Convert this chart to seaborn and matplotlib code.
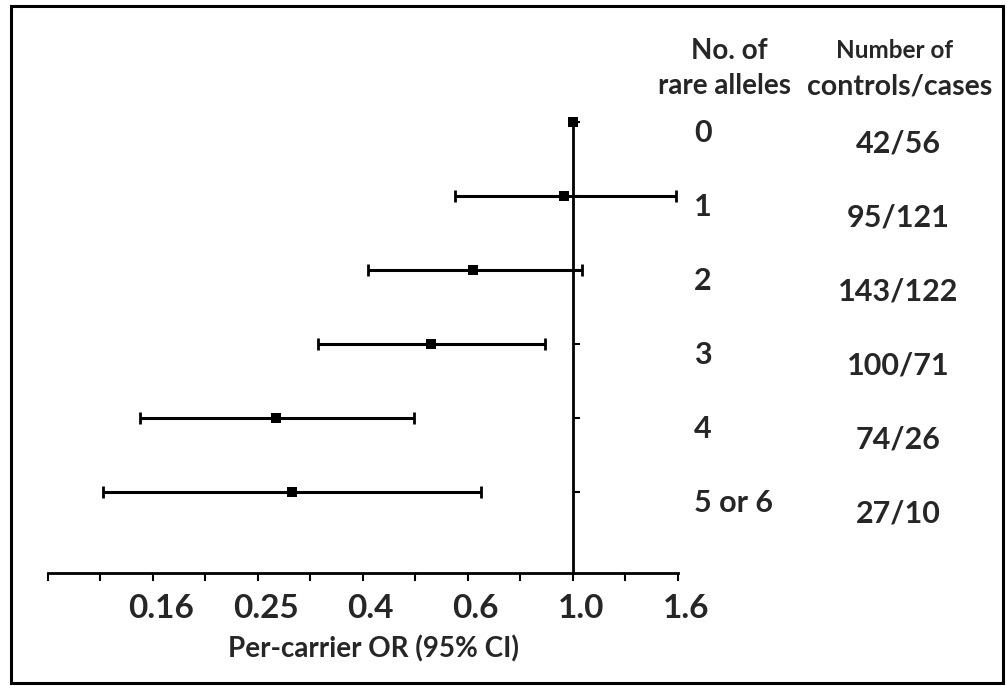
import numpy as np
import pandas as pd
import matplotlib
matplotlib.use("Agg")
import matplotlib.pyplot as plt
import matplotlib.transforms as mtransforms
from matplotlib.patches import Rectangle
import seaborn as sns

# Per-carrier odds ratios by number of rare alleles
groups = ["0", "1", "2", "3", "4", "5 or 6"]
counts = ["42/56", "95/121", "143/122", "100/71", "74/26", "27/10"]
odds_ratio = [1.0, 0.96, 0.64, 0.53, 0.265, 0.284]
ci_low = [np.nan, 0.59, 0.40, 0.32, 0.144, 0.122]
ci_high = [np.nan, 1.59, 1.04, 0.885, 0.491, 0.664]

# x axis: log scale with steps of 1.6
tick_labels = ["0.16", "0.25", "0.4", "0.6", "1.0", "1.6"]
tick_values = [1.6 ** k for k in range(-4, 2)]

sns.set_theme(style="white")
plt.rcParams["font.family"] = ["Lato", "DejaVu Sans"]

df = pd.DataFrame({
    "group": groups,
    "or": odds_ratio,
    "lo": ci_low,
    "hi": ci_high,
    "count": counts,
})
df["row"] = np.arange(len(df))[::-1] + 1  # top row = 6

fig = plt.figure(figsize=(10.07, 6.86), dpi=100)
W, H = 1007, 686
x0, x1 = 47.7, 677.8
y_axis, y_top = 573, 122
row_px = 74.0
ax = fig.add_axes([x0 / W, (H - y_axis) / H, (x1 - x0) / W, (y_axis - y_top) / H])

ax.set_xscale("log")
ax.set_xlim(1.6 ** -5, 1.6 ** 1)
ax.set_ylim(1 - (y_axis - 492) / row_px, 6)

# confidence intervals
err = np.array([df["or"] - df["lo"], df["hi"] - df["or"]])
ax.errorbar(df["or"], df["row"], xerr=err, fmt="none", ecolor="black",
            elinewidth=2.2, capsize=4.5, capthick=2.0, zorder=2)

# point estimates
sns.scatterplot(data=df, x="or", y="row", marker="s", s=55, color="black",
                edgecolor="black", linewidth=0, ax=ax, zorder=3, clip_on=False)

# axes styling
for side in ["top", "right"]:
    ax.spines[side].set_visible(False)
ax.spines["left"].set_position(("data", 1.0))
ax.spines["left"].set_linewidth(2.0)
ax.spines["left"].set_color("black")
ax.spines["left"].set_bounds(ax.get_ylim()[0], 6)
ax.spines["bottom"].set_linewidth(2.0)
ax.spines["bottom"].set_color("black")

ax.set_yticks(df["row"])
ax.set_yticklabels([])
ax.tick_params(axis="y", direction="in", length=5, width=1.5, color="black", left=True)

all_ticks = [1.6 ** (k / 2) for k in range(-10, 3)]
ax.xaxis.set_major_locator(matplotlib.ticker.FixedLocator(all_ticks))
ax.xaxis.set_minor_locator(matplotlib.ticker.NullLocator())
label_map = {round(v, 6): t for v, t in zip(tick_values, tick_labels)}
ax.set_xticklabels([label_map.get(round(v, 6), "") for v in all_ticks])
ax.tick_params(axis="x", direction="out", length=6, width=1.5, color="black",
               bottom=True, labelsize=24, pad=9)
for lbl in ax.get_xticklabels():
    lbl.set_fontweight("bold")
    lbl.set_transform(lbl.get_transform() + mtransforms.ScaledTranslation(8 / 100, 0, fig.dpi_scale_trans))

ax.set_xlabel("")
ax.set_ylabel("")
fig.text(373 / W, 1 - 657 / H, "Per-carrier OR (95% CI)", ha="center", va="baseline",
         fontsize=20, fontweight="bold")

# table columns to the right of the plot
trans = mtransforms.blended_transform_factory(fig.transFigure, ax.transData)
for _, r in df.iterrows():
    ax.text(694 / W, r["row"] - 11 / row_px, r["group"], transform=trans, ha="left",
            va="center", fontsize=22, fontweight="bold", clip_on=False)
    ax.text(898 / W, r["row"] - 21 / row_px, r["count"], transform=trans, ha="center",
            va="center", fontsize=22, fontweight="bold", clip_on=False)

fig.text(729 / W, 1 - 51 / H, "No. of", ha="center", va="center", fontsize=20, fontweight="bold")
fig.text(725 / W, 1 - 86 / H, "rare alleles", ha="center", va="center", fontsize=20, fontweight="bold")
fig.text(895 / W, 1 - 51 / H, "Number of", ha="center", va="center", fontsize=17.5, fontweight="bold")
fig.text(900 / W, 1 - 86 / H, "controls/cases", ha="center", va="center", fontsize=20.5, fontweight="bold")

# outer frame
fig.patches.append(Rectangle((11 / W, 3 / H), (1003 - 11) / W, (680 - 3) / H,
                             transform=fig.transFigure, fill=False, edgecolor="black",
                             linewidth=2.2))

fig.savefig("out.png", dpi=100)
